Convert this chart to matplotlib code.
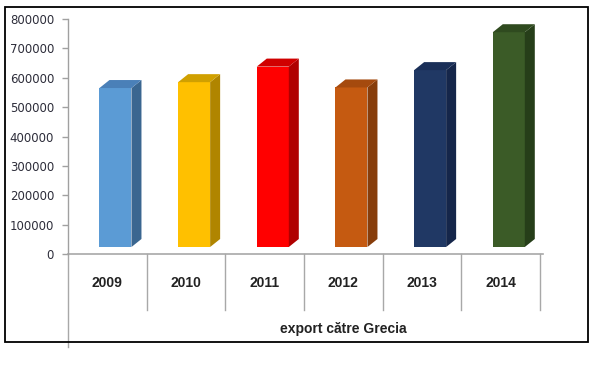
import matplotlib
matplotlib.use("Agg")
import matplotlib.pyplot as plt
from matplotlib.patches import Rectangle

years = ["2009", "2010", "2011", "2012", "2013", "2014"]
values = [565000, 585000, 638000, 567000, 626000, 755000]
front_colors = ["#5B9BD5", "#FFC000", "#FF0000", "#C55A11", "#203864", "#3B5B27"]
side_colors = ["#3A6690", "#B08500", "#B00000", "#873D0B", "#15264A", "#263E19"]
top_colors = ["#4A80B8", "#D0A000", "#D00000", "#A54A0E", "#1A2F58", "#2F4A1F"]
xlabel = "export către Grecia"

W, H = 608, 369
fig = plt.figure(figsize=(W / 100, H / 100), dpi=100)

# plot area in pixel coords of the reference
x0, x1 = 68, 540
y_top, y_zero = 19, 254
ax = fig.add_axes([x0 / W, 1 - y_zero / H, (x1 - x0) / W, (y_zero - y_top) / H])
ax.set_xlim(0, len(years))
ax.set_ylim(0, 800000)

px_x = len(years) / (x1 - x0)
px_y = 800000 / (y_zero - y_top)

base = 7 * px_y
left_off, width = 0.40, 32 * px_x
dx, dy = 10 * px_x, 8 * px_y

for i, v in enumerate(values):
    l = i + left_off
    r = l + width
    ax.bar(l, v - base, width=width, bottom=base, align="edge",
           color=front_colors[i], edgecolor="none", zorder=3)
    ax.fill([r, r + dx, r + dx, r], [base, base + dy, v + dy, v],
            color=side_colors[i], lw=0, zorder=3)
    ax.fill([l, l + dx, r + dx, r], [v, v + dy, v + dy, v],
            color=top_colors[i], lw=0, zorder=3)

ax.set_yticks(range(0, 800001, 100000))
ax.set_yticklabels([str(t) for t in range(0, 800001, 100000)],
                   fontsize=8.5, color="#2d2d3a", family="DejaVu Sans")
ax.tick_params(axis="y", length=4, color="#a0a0a0", width=1, pad=6)
ax.set_xticks([])

for s in ["top", "right", "bottom"]:
    ax.spines[s].set_visible(False)
ax.spines["left"].set_color("#a0a0a0")
ax.spines["left"].set_linewidth(1)

gray = "#a8a8a8"
# zero line, category separators, extended axis
ax.plot([0, len(years) + 3 * px_x], [0, 0], color=gray, lw=1.2, clip_on=False, zorder=2)
sep_bottom = -(310 - y_zero) * px_y
for k in range(1, len(years) + 1):
    ax.plot([k, k], [0, sep_bottom], color=gray, lw=1, clip_on=False)
ax.plot([0, 0], [0, -(347 - y_zero) * px_y], color=gray, lw=1, clip_on=False)

for i, y in enumerate(years):
    ax.text(i + 0.5, -(283 - y_zero) * px_y, y, ha="center", va="center",
            fontsize=10, fontweight="bold", family="Liberation Sans", color="#222222")

ax.text((343 - x0) * px_x, -(329 - y_zero) * px_y, xlabel, ha="center", va="center",
        fontsize=10, fontweight="bold", family="Liberation Sans", color="#222222")

fig.patches.append(Rectangle((5 / W, 1 - 342 / H), (588 - 5) / W, (342 - 7) / H,
                             transform=fig.transFigure, fill=False,
                             edgecolor="black", lw=1.3))

fig.savefig("out.png", dpi=100)
